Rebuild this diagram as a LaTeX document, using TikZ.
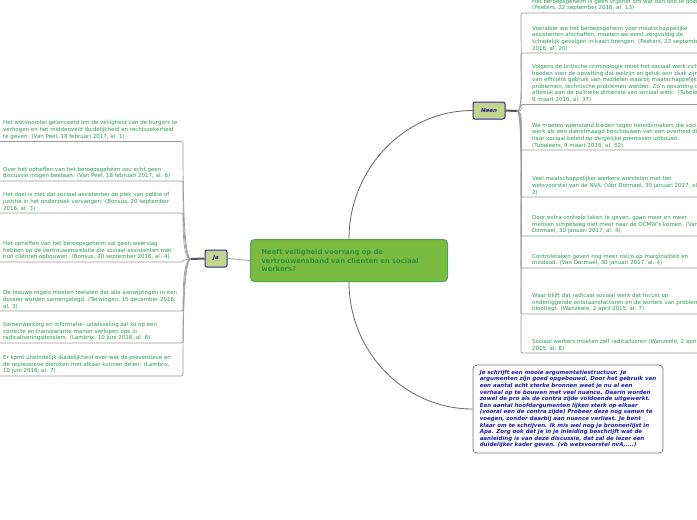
\documentclass[tikz,border=0pt]{standalone}
\usepackage{fontspec}
\setmainfont{DejaVu Sans}
\usetikzlibrary{calc}
\definecolor{itemgreen}{HTML}{2E9B57}
\definecolor{hubfill}{HTML}{7CBB42}
\definecolor{hubdraw}{HTML}{4AA84F}
\definecolor{hubtext}{HTML}{2F8F3F}
\definecolor{ansfill}{HTML}{C6D58C}
\definecolor{ansdraw}{HTML}{28289C}
\definecolor{anstext}{HTML}{1C1C8C}
\definecolor{notetext}{HTML}{1A1AB0}
\definecolor{notedraw}{HTML}{777777}
\definecolor{conngray}{HTML}{9A9A9A}
\definecolor{maingray}{HTML}{666666}
\definecolor{stubgray}{HTML}{555555}
\tikzset{
 litem/.style={anchor=south west, align=left, inner xsep=3pt, inner ysep=2pt, text=itemgreen, font=\fontsize{5.5}{6.6}\selectfont},
 ritem/.style={litem, inner xsep=11pt},
 conn/.style={draw=conngray, line width=0.7pt},
 mainconn/.style={draw=maingray, line width=0.8pt},
 stub/.style={draw=stubgray, line width=2pt},
 jaline/.style={draw=conngray!80, line width=1pt},
 hub/.style={draw=hubdraw, fill=hubfill, line width=1pt, rounded corners=4pt, text=hubtext, align=left, text width=175pt, inner xsep=11pt, minimum height=42pt, font=\fontsize{6.8}{8.2}\selectfont\bfseries},
 answer/.style={draw=ansdraw, fill=ansfill, line width=1pt, rounded corners=2pt, text=anstext, minimum height=17pt, inner sep=0pt, font=\fontsize{5.5}{6.6}\selectfont\bfseries\itshape},
 commentbox/.style={draw=notedraw, fill=white, line width=0.8pt, rounded corners=4pt, text=notetext, align=left, minimum width=190pt, minimum height=88pt, inner sep=0pt, font=\fontsize{5.5}{6.6}\selectfont\bfseries\itshape}
}
\newcommand\leftlink[3]{\draw[conn] (jaJ) .. controls ($(jaJ)+(-6,0)$) and ($(#1.south west -| ljx)+(0,#3)$) .. ($(#1.south west -| ljx)+(0,#2)$) .. controls (#1.south west -| ljx) .. ($(#1.south west -| ljx)+(-4,0)$) -- (#1.south west);}
\newcommand\rightlink[3]{\draw[conn] (neJ) .. controls ($(neJ)+(6,0)$) and ($(#1.south west)+(0,#3)$) .. ($(#1.south west)+(0,#2)$) .. controls (#1.south west) .. ($(#1.south west)+(4,0)$) -- (#1.south west -| redge);}
\begin{document}
\begin{tikzpicture}[x=1pt,y=-1pt]
\useasboundingbox (0,0) rectangle (697,520);
\clip (0,0) rectangle (697,520);
\fill[white] (0,0) rectangle (697,520);
\coordinate (jaJ) at (191,259);
\coordinate (neJ) at (517,111);
\coordinate (ljx) at (183,0);
\coordinate (redge) at (700,0);

% central
\node[hub, anchor=north west, minimum width=196pt] (hub) at (250,239) {Heeft veiligheid voorrang op de\\vertrouwensband van cliënten en sociaal\\werkers?};
\node[answer, minimum width=22pt] (ja) at (216,258.5) {Ja};
\node[answer, minimum width=32pt] (neen) at (489,110.5) {Neen};
\node[commentbox] (note) at (568,409) {Je schrijft een mooie argumentatiestructuur. Je\\argumenten zijn goed opgebouwd. Door het gebruik van\\een aantal echt sterke bronnen weet je nu al een\\verhaal op te bouwen met veel nuance. Daarin worden\\zowel de pro als de contra zijde voldoende uitgewerkt.\\Een aantal hoofdargumenten lijken sterk op elkaar\\(vooral een de contra zijde) Probeer deze nog samen te\\voegen, zonder daarbij aan nuance verliest. Je bent\\klaar om te schrijven. Ik mis wel nog je bronnenlijst in\\Apa. Zorg ook dat je in je inleiding beschrijft wat de\\aanleiding is van deze discussie, dat zal de lezer een\\duidelijker kader geven. (vb wetsvoorstel nvA,....)};

% left items
\node[litem] (l1) at (0,141.5) {Het wetvoorstel gelanceerd om de veiligheid van de burgers te\\verhogen en het middenveld duidelijkheid en rechtszekerheid\\te geven. (Van Peel, 18 februari 2017, al. 1)};
\node[litem] (l2) at (0,181) {Over het opheffen van het beroepsgeheim zou echt geen\\discussie mogen bestaan. (Van Peel, 18 februari 2017, al. 6)};
\node[litem] (l3) at (0,213) {Het doel is niet dat sociaal assistenten de plek van politie of\\justitie in het onderzoek vervangen. (Bonsus, 20 september\\2016, al. 3)};
\node[litem] (l4) at (0,262) {Het opheffen van het beroepsgeheim zal geen weerslag\\hebben op de vertrouwensrelatie die sociaal assistenten met\\hun cliënten opbouwen. (Bonsus, 20 september 2016, al. 4)};
\node[litem] (l5) at (0,311) {De nieuwe regels moeten toelaten dat alle aanwijzingen in een\\dossier worden samengelegd. (Terwingen, 15 december 2016,\\al. 3)};
\node[litem] (l6) at (0,343) {Samenwerking en informatie- uitwisseling zal zo op een\\correcte en transparante manier verlopen ook in\\radicaliseringsdossiers. (Lambrix, 10 juni 2016, al. 6)};
\node[litem] (l7) at (0,376) {Er komt uiteindelijk duidelijkheid over wat de preventieve en\\de repressieve diensten met elkaar kunnen delen. (Lambrix,\\10 juni 2016, al. 7)};

% right items
\node[ritem] (r0) at (521,13) {Het beroepsgeheim is geen vrijbrief om wat dan ook te doen\\(Peeters, 22 september 2016, al. 13)};
\node[ritem] (r1) at (521,53) {Vooraleer we het beroepsgeheim voor maatschappelijke\\assistenten afschaffen, moeten we eerst zorgvuldig de\\schadelijk gevolgen in kaart brengen. (Peeters, 22 september\\2016, al. 20)};
\node[ritem] (r2) at (521,104.5) {Volgens de kritische criminologie moet het sociaal werk zich\\hoeden voor de opvatting dat welzijn en geluk een zaak zijn\\van efficiënt gebruik van middelen waarbij maatschappelijk\\problemen, technische problemen worden. Zo'n opvatting doet\\afbreuk aan de politieke dimensie van sociaal werk. (Tubeleers,\\9 maart 2016, al. 37)};
\node[ritem] (r3) at (521,150) {We moeten weerstand bieden tegen beleidsmakers die sociaal\\werk als een dienstmaagd beschouwen van een overheid die\\haar sociaal beleid op dergelijke premissen uitbouwt.\\(Tubeleers, 9 maart 2016, al. 52)};
\node[ritem] (r4) at (521,197) {Veel maatschappelijker werkers worstelen met het\\wetsvoorstel van de NVA. (Van Dormael, 30 januari 2017, al.\\2)};
\node[ritem] (r5) at (521,236) {Door extra controle taken te geven, gaan meer en meer\\mensen simpelweg niet meer naar de OCMW's komen. (Van\\Dormael, 30 januari 2017, al. 4)};
\node[ritem] (r6) at (521,268) {Controletaken geven nog meer risico op marginaliteit en\\misdaad. (Van Dormael, 30 januari 2017, al. 4)};
\node[ritem] (r7) at (521,314) {Waar blijft dat radicaal sociaal werk dat focust op\\onderliggende ontstaansfactoren en de wortels van problemen\\blootlegt. (Wanzeele, 2 april 2015, al. 7)};
\node[ritem] (r8) at (521,353) {Sociaal werkers moeten zelf radicaliseren (Wanzeele, 2 april\\2015, al. 8)};

% connectors
\draw[jaline] (hub.west) -- (ja.east);
\draw[mainconn] (hub.north) .. controls ($(hub.north)+(0,-70)$) and ($(neen.west)+(-68,0)$) .. (neen.west);
\draw[mainconn] (hub.south) .. controls ($(hub.south)+(0,70)$) and ($(note.west)+(-68,0)$) .. (note.west);
\draw[stub] (ja.west) -- (jaJ);
\draw[stub] (neen.east) -- (neJ);

\leftlink{l1}{4}{74}
\leftlink{l2}{4}{51}
\leftlink{l3}{4}{32}
\leftlink{l4}{-1.5}{-1}
\leftlink{l5}{-4}{-35}
\leftlink{l6}{-4}{-54}
\leftlink{l7}{-4}{-74}

\rightlink{r0}{4}{63}
\rightlink{r1}{4}{39}
\rightlink{r2}{3}{4}
\rightlink{r3}{-4}{-27}
\rightlink{r4}{-4}{-56}
\rightlink{r5}{-4}{-79}
\rightlink{r6}{-4}{-98}
\rightlink{r7}{-4}{-126}
\rightlink{r8}{-4}{-149}
\end{tikzpicture}
\end{document}
